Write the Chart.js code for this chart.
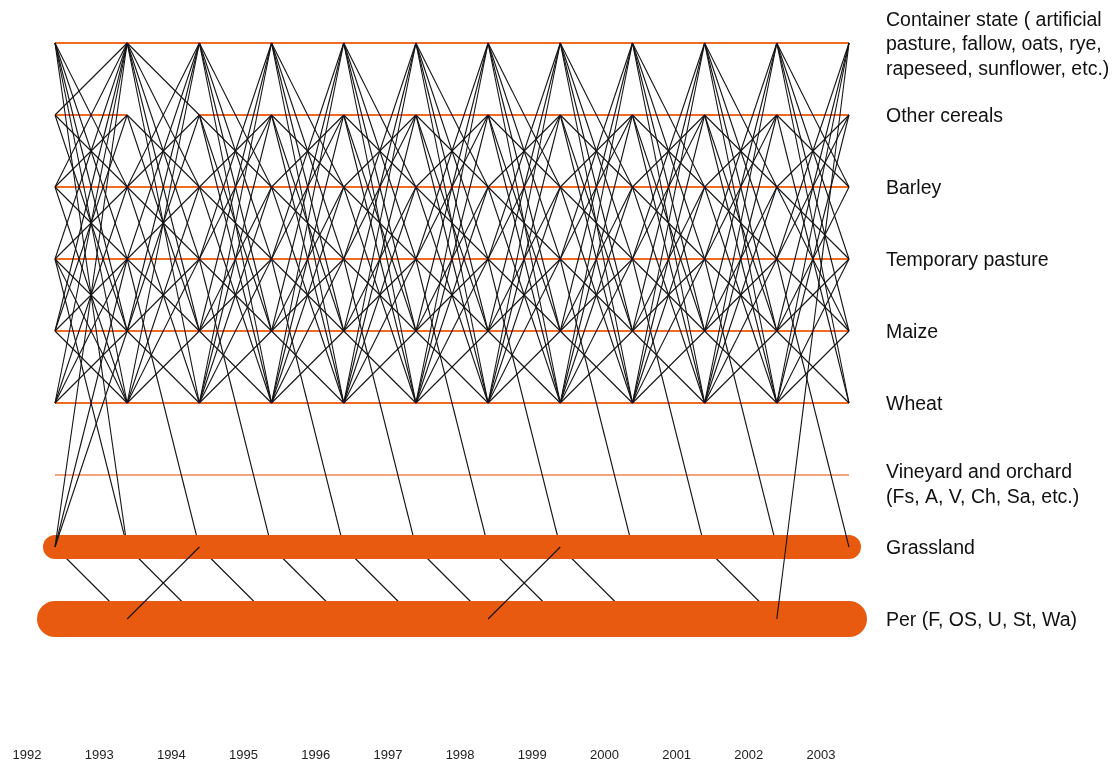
<!DOCTYPE html>
<html>
<head>
<meta charset="utf-8">
<script src="https://cdn.jsdelivr.net/npm/chart.js@4.4.0/dist/chart.umd.min.js"></script>
<style>
  html, body { margin: 0; padding: 0; background: #ffffff; }
  #wrap { width: 1115px; height: 767px; }
</style>
</head>
<body>
<div id="wrap"><canvas id="myChart" width="1115" height="767"></canvas></div>
<script>
  /* DATA */

  const years = [1992, 1993, 1994, 1995, 1996, 1997, 1998, 1999, 2000, 2001, 2002, 2003];

  const stateLabels = [
    ['Container state ( artificial', 'pasture, fallow, oats, rye,', 'rapeseed, sunflower, etc.)'],
    'Other cereals',
    'Barley',
    'Temporary pasture',
    'Maize',
    'Wheat',
    ['Vineyard and orchard', '(Fs, A, V, Ch, Sa, etc.)'],
    'Grassland',
    'Per (F, OS, U, St, Wa)'
  ];

  // state indexes
  const C = 0, O = 1, B = 2, T = 3, M = 4, W = 5, V = 6, G = 7, P = 8;

  // which years each state line covers
  const stateSpans = [
    [C, 1992, 2003],
    [O, 1992, 1993],
    [O, 1994, 2003],
    [B, 1992, 2003],
    [T, 1992, 2003],
    [M, 1992, 2003],
    [W, 1992, 2003],
    [V, 1992, 2003],
    [G, 1992, 2003],
    [P, 1992, 2003]
  ];

  // transitions for each year step, [from state, to state]
  const transitions = [
    // 1992 -> 1993
    [[C,B],[C,T],[C,M],[C,W],[C,G],[O,C],[O,B],[O,M],[B,C],[B,O],[B,T],[B,W],
     [T,C],[T,B],[T,M],[T,W],[T,G],[M,C],[M,O],[M,T],[M,W],[W,C],[W,B],[W,T],[W,M],[G,P]],
    // 1993 -> 1994
    [[C,O],[C,B],[C,T],[C,M],[C,W],[O,B],[O,M],[B,C],[B,O],[B,T],[B,W],
     [T,C],[T,B],[T,M],[T,G],[M,C],[M,O],[M,T],[M,W],[W,C],[W,B],[W,T],[W,M],[G,P]],
    // 1994 -> 1995
    [[C,B],[C,T],[C,M],[C,W],[O,B],[O,M],[O,W],[B,O],[B,T],[B,W],[T,C],[T,O],[T,M],[T,G],
     [M,C],[M,B],[M,T],[M,W],[W,C],[W,O],[W,B],[W,T],[W,M],[G,P]],
    // 1995 -> 1996
    [[C,B],[C,T],[C,M],[C,W],[O,B],[O,M],[O,W],[B,O],[B,T],[B,W],[T,C],[T,O],[T,M],[T,G],
     [M,C],[M,B],[M,T],[M,W],[W,C],[W,O],[W,B],[W,T],[W,M],[G,P]],
    // 1996 -> 1997
    [[C,B],[C,T],[C,M],[C,W],[O,B],[O,M],[O,W],[B,O],[B,T],[B,W],[T,C],[T,O],[T,M],[T,G],
     [M,C],[M,B],[M,T],[M,W],[W,C],[W,O],[W,B],[W,T],[W,M],[G,P]],
    // 1997 -> 1998
    [[C,B],[C,T],[C,M],[C,W],[O,B],[O,M],[O,W],[B,O],[B,T],[B,W],[T,C],[T,O],[T,M],[T,G],
     [M,C],[M,B],[M,T],[M,W],[W,C],[W,O],[W,B],[W,T],[W,M],[G,P]],
    // 1998 -> 1999
    [[C,B],[C,T],[C,M],[C,W],[O,B],[O,M],[O,W],[B,O],[B,T],[B,W],[T,C],[T,O],[T,M],[T,G],
     [M,C],[M,B],[M,T],[M,W],[W,C],[W,O],[W,B],[W,T],[W,M],[G,P]],
    // 1999 -> 2000
    [[C,B],[C,T],[C,M],[C,W],[O,B],[O,M],[O,W],[B,O],[B,T],[B,W],[T,C],[T,O],[T,M],[T,G],
     [M,C],[M,B],[M,T],[M,W],[W,C],[W,O],[W,B],[W,T],[W,M],[G,P]],
    // 2000 -> 2001
    [[C,B],[C,T],[C,M],[C,W],[O,B],[O,M],[O,W],[B,O],[B,T],[B,W],[T,C],[T,O],[T,M],[T,G],
     [M,C],[M,B],[M,T],[M,W],[W,C],[W,O],[W,B],[W,T],[W,M]],
    // 2001 -> 2002
    [[C,B],[C,T],[C,M],[C,W],[O,B],[O,M],[O,W],[B,O],[B,T],[B,W],[T,C],[T,O],[T,M],[T,G],
     [M,C],[M,B],[M,T],[M,W],[W,C],[W,O],[W,B],[W,T],[W,M],[G,P]],
    // 2002 -> 2003
    [[C,B],[C,T],[C,M],[C,W],[O,B],[O,W],[B,O],[B,T],[B,M],[T,C],[T,O],[T,M],
     [M,C],[M,B],[M,T],[M,W],[W,C],[W,O],[W,T],[W,M]]
  ];

  // transitions drawn over the thick bands, [from year, from state, to state]
  const overBands = [
    [1992, G, C], [1992, G, T], [1992, G, M],
    [1993, P, G], [1998, P, G],
    [2002, P, C], [2002, T, G]
  ];

  /* FUNCTION TO BUILD DATASETS */

  function lineSet(x1, s1, x2, s2, color, width, order, cap) {
    return {
      data: [{ x: x1, y: s1 }, { x: x2, y: s2 }],
      showLine: true,
      pointRadius: 0,
      borderColor: color,
      borderWidth: width,
      borderCapStyle: cap || 'butt',
      order: order
    };
  }

  function buildDatasets() {
    const sets = [];

    stateSpans.forEach(([s, from, to]) => {
      if (s === G) {
        sets.push(lineSet(from, s, to, s, '#e85a10', 24, 2, 'round'));
      } else if (s === P) {
        sets.push(lineSet(from, s, to, s, '#e85a10', 36, 2, 'round'));
      } else if (s === V) {
        sets.push(lineSet(from, s, to, s, '#f08550', 1.5, 6));
      } else {
        sets.push(lineSet(from, s, to, s, '#f06a22', 2, 6));
      }
    });

    for (let i = 0; i < transitions.length; i++) {
      transitions[i].forEach(([a, b]) => {
        sets.push(lineSet(years[i], a, years[i + 1], b, '#141414', 1.1, 4));
      });
    }

    overBands.forEach(([yr, a, b]) => {
      sets.push(lineSet(yr, a, yr + 1, b, '#141414', 1.1, 1));
    });

    return sets;
  }

  /* FUNCTION TO CREATE CHART */

  function initChart(canvas) {
    const pxPerYear = 794 / 11;

    return new Chart(canvas, {
      type: 'scatter',
      data: { datasets: buildDatasets() },
      options: {
        responsive: false,
        devicePixelRatio: 1,
        animation: false,
        events: [],
        layout: { padding: { left: 20, top: 10, right: 0, bottom: 0 } },
        plugins: { legend: { display: false }, tooltip: { enabled: false } },
        scales: {
          x: {
            type: 'linear',
            display: false,
            min: 1992 - 35 / pxPerYear,
            max: 2003 + 21 / pxPerYear
          },
          xl: {
            type: 'linear',
            position: 'bottom',
            min: 1992 - 7 / pxPerYear,
            max: 1992 - 7 / pxPerYear + 850 / pxPerYear,
            bounds: 'data',
            grid: { display: false, drawTicks: false },
            border: { display: false },
            afterBuildTicks: (scale) => { scale.ticks = years.map(v => ({ value: v })); },
            afterFit: (scale) => {
              scale.height = 27;
              scale.paddingLeft = 0;
              scale.paddingRight = 0;
            },
            ticks: {
              autoSkip: false,
              maxRotation: 0,
              padding: 8,
              color: '#222222',
              font: { family: 'Liberation Sans', size: 13 },
              callback: (value) => String(value)
            }
          },
          y: {
            type: 'linear',
            position: 'right',
            reverse: true,
            bounds: 'data',
            min: -33 / 72,
            max: 8 + 121 / 72,
            grid: { display: false, drawTicks: false },
            border: { display: false },
            afterBuildTicks: (scale) => {
              scale.ticks = stateLabels.map((s, i) => ({ value: i === V ? i + 10 / 72 : i + 2 / 72 }));
            },
            afterFit: (scale) => {
              scale.width = 245;
              scale.paddingTop = 0;
              scale.paddingBottom = 0;
            },
            ticks: {
              autoSkip: false,
              padding: 16,
              color: '#111111',
              font: { family: 'Liberation Sans', size: 19.5, lineHeight: 1.26 },
              callback: (value, index) => stateLabels[index]
            }
          }
        }
      }
    });
  }

  async function mainEvent() {
    const chartTarget = document.querySelector('#myChart');
    initChart(chartTarget);
  }

  document.addEventListener('DOMContentLoaded', async () => mainEvent());
</script>
</body>
</html>
